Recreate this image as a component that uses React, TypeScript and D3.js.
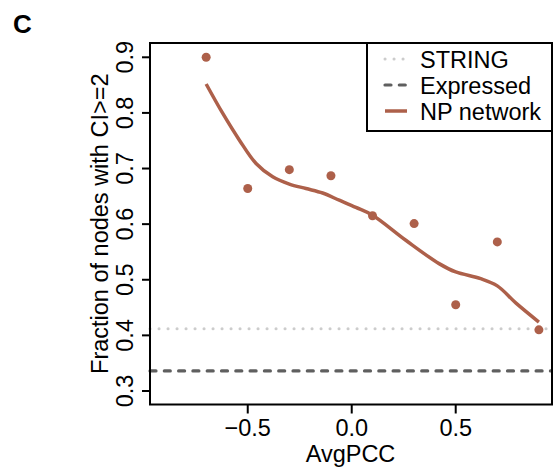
import React, { useEffect, useRef } from "react";
import * as d3 from "d3";

// observed points
const avgPcc = [-0.7, -0.5, -0.3, -0.1, 0.1, 0.3, 0.5, 0.7, 0.9];
const fraction = [0.9, 0.664, 0.698, 0.687, 0.615, 0.601, 0.455, 0.568, 0.41];

// smoothed NP network curve
const smoothX = [-0.7, -0.62, -0.54, -0.46, -0.38, -0.3, -0.22, -0.14, -0.06, 0.02, 0.1, 0.26, 0.42, 0.5, 0.62, 0.7, 0.79, 0.9];
const smoothY = [0.852, 0.799, 0.751, 0.709, 0.685, 0.672, 0.664, 0.656, 0.643, 0.63, 0.616, 0.571, 0.529, 0.514, 0.502, 0.489, 0.458, 0.424];

// reference levels
const stringLevel = 0.412;
const expressedLevel = 0.336;

const xTicks = [-0.5, 0, 0.5];
const yTicks = [0.3, 0.4, 0.5, 0.6, 0.7, 0.8, 0.9];
const legendLabels = ["STRING", "Expressed", "NP network"];

const FONT = "'Liberation Sans', Arial, sans-serif";
const RUST = "#ad604a";
const FS = 23.5;

function App() {
  const svgRef = useRef<SVGSVGElement>(null);

  useEffect(() => {
    const svg = d3.select(svgRef.current);
    svg.selectAll("*").remove();

    const left = 150, right = 552, top = 43, bottom = 404.5;

    const x = d3.scaleLinear().domain([-0.97, 0.963]).range([left, right]);
    const y = d3.scaleLinear().domain([0.2757, 0.9257]).range([bottom, top]);

    // panel letter
    svg.append("text")
      .attr("x", 13).attr("y", 33)
      .attr("font-family", FONT).attr("font-weight", "bold")
      .attr("font-size", 26).text("C");

    // horizontal reference lines
    svg.append("line")
      .attr("x1", left).attr("x2", right)
      .attr("y1", y(stringLevel)).attr("y2", y(stringLevel))
      .attr("stroke", "#cccccc").attr("stroke-width", 3)
      .attr("stroke-linecap", "round").attr("stroke-dasharray", "0.1,8.9");

    svg.append("line")
      .attr("x1", left).attr("x2", right)
      .attr("y1", y(expressedLevel)).attr("y2", y(expressedLevel))
      .attr("stroke", "#5f5f5f").attr("stroke-width", 3.2)
      .attr("stroke-linecap", "round").attr("stroke-dasharray", "6,8.3");

    // smooth curve
    const line = d3.line<number>()
      .x((d, i) => x(smoothX[i]))
      .y(d => y(d))
      .curve(d3.curveCatmullRom);
    svg.append("path")
      .attr("d", line(smoothY))
      .attr("fill", "none")
      .attr("stroke", RUST).attr("stroke-width", 3.5);

    // points
    svg.selectAll("circle.dot")
      .data(avgPcc)
      .join("circle")
      .attr("class", "dot")
      .attr("cx", d => x(d))
      .attr("cy", (d, i) => y(fraction[i]))
      .attr("r", 4.5)
      .attr("fill", RUST);

    // frame
    svg.append("rect")
      .attr("x", left).attr("y", top)
      .attr("width", right - left).attr("height", bottom - top)
      .attr("fill", "none").attr("stroke", "black").attr("stroke-width", 2);

    // x axis
    const gx = svg.append("g");
    xTicks.forEach(t => {
      gx.append("line")
        .attr("x1", x(t)).attr("x2", x(t))
        .attr("y1", bottom).attr("y2", bottom + 9)
        .attr("stroke", "black").attr("stroke-width", 2);
      gx.append("text")
        .attr("x", x(t)).attr("y", 436)
        .attr("text-anchor", "middle")
        .attr("font-family", FONT).attr("font-size", FS)
        .text(d3.format(".1f")(t).replace("-", "\u2212"));
    });
    svg.append("text")
      .attr("x", (left + right) / 2 - 0.5).attr("y", 462)
      .attr("text-anchor", "middle")
      .attr("font-family", FONT).attr("font-size", FS)
      .text("AvgPCC");

    // y axis
    const gy = svg.append("g");
    yTicks.forEach(t => {
      gy.append("line")
        .attr("x1", left - 8).attr("x2", left)
        .attr("y1", y(t)).attr("y2", y(t))
        .attr("stroke", "black").attr("stroke-width", 2);
      gy.append("text")
        .attr("transform", `translate(133,${y(t)}) rotate(-90)`)
        .attr("text-anchor", "middle")
        .attr("font-family", FONT).attr("font-size", FS)
        .text(d3.format(".1f")(t));
    });
    svg.append("text")
      .attr("transform", `translate(108,${(top + bottom) / 2}) rotate(-90)`)
      .attr("text-anchor", "middle")
      .attr("font-family", FONT).attr("font-size", FS)
      .text("Fraction of nodes with CI>=2");

    // legend
    const lg = svg.append("g");
    lg.append("rect")
      .attr("x", 367).attr("y", top)
      .attr("width", right - 367).attr("height", 131 - top)
      .attr("fill", "white").attr("stroke", "black").attr("stroke-width", 2);
    const styles = [
      { stroke: "#cccccc", dash: "0.1,8.9", w: 3 },
      { stroke: "#5f5f5f", dash: "6,8.3", w: 3.2 },
      { stroke: RUST, dash: null, w: 3.5 },
    ];
    legendLabels.forEach((lab, i) => {
      const cy = 59 + i * 26;
      lg.append("line")
        .attr("x1", 385).attr("x2", 407)
        .attr("y1", cy).attr("y2", cy)
        .attr("stroke", styles[i].stroke).attr("stroke-width", styles[i].w)
        .attr("stroke-linecap", styles[i].dash ? "round" : "butt")
        .attr("stroke-dasharray", styles[i].dash);
      lg.append("text")
        .attr("x", 420).attr("y", cy + 8.5)
        .attr("font-family", FONT).attr("font-size", FS)
        .text(lab);
    });
  }, []);

  return (
    <svg ref={svgRef} width={553} height={470}
      style={{ position: "absolute", left: 0, top: 0, background: "white" }} />
  );
}

export default App;
